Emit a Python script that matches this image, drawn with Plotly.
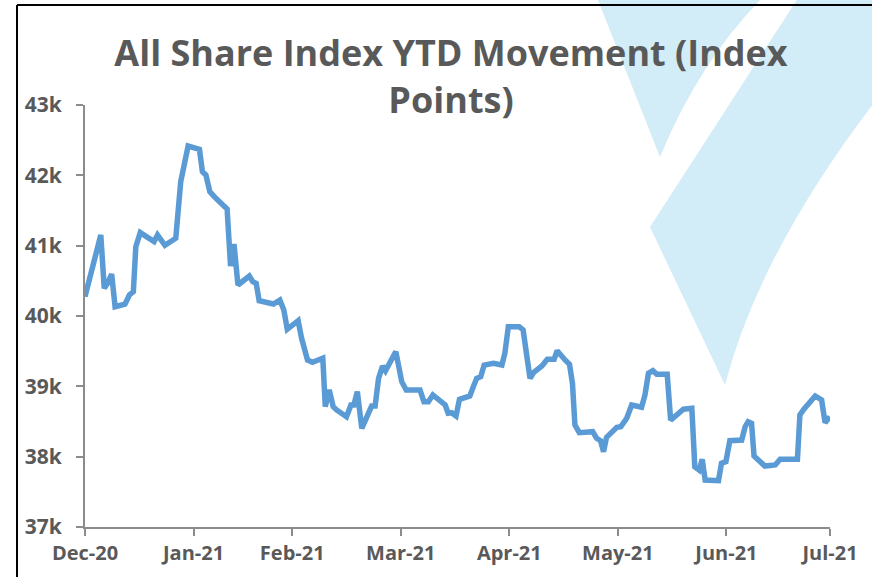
import plotly.graph_objects as go

# Trading-day index (x) and All Share Index level (y)
day = [0, 3.2, 3.9, 4.5, 5.4, 6.1, 8.1, 9.0, 9.8, 10.3, 11.2, 14.0, 14.7, 16.2, 18.4, 18.9, 19.4, 20.9,
       23.2, 23.8, 24.5, 25.3, 26.2, 28.8, 29.5, 30.2, 31.0, 33.3, 34.0, 34.7, 35.3, 38.2, 39.5, 40.3,
       41.0, 43.2, 43.9, 45.1, 46.1, 48.2, 48.7, 49.5, 50.3, 51.0, 53.0, 53.9, 54.5, 55.2, 56.1, 58.1,
       58.8, 59.5, 60.3, 60.9, 63.0, 64.2, 65.1, 67.9, 68.7, 69.6, 70.5, 73.0, 73.6, 74.3, 75.2, 75.9,
       78.0, 78.7, 79.4, 80.2, 80.9, 82.8, 84.5, 85.1, 85.8, 88.0, 88.8, 90.2, 90.9, 92.6, 93.7, 95.1,
       95.7, 97.3, 98.2, 98.8, 99.3, 100.2, 102.9, 103.7, 104.5, 105.1, 105.7, 107.8, 108.6, 109.8,
       110.8, 112.8, 113.5, 114.2, 115.1, 115.9, 118.0, 118.7, 120.6, 121.3, 123.0, 123.6, 124.5,
       125.1, 125.7, 128.4, 129.0, 129.9, 130.7, 133.1, 133.8, 134.4, 135.1, 135.6, 137.8, 139.9,
       140.9, 144.4, 144.9, 145.7, 148.0, 149.3, 150.0, 151.0]
index_points = [40275, 41152, 40394, 40455, 40597, 40132, 40167, 40299, 40346, 40986, 41185, 41057,
                41152, 41006, 41105, 41578, 41910, 42417, 42370, 42052, 42005, 41768, 41697, 41522,
                40711, 41024, 40441, 40569, 40488, 40465, 40218, 40171, 40228, 40086, 39811, 39933,
                39683, 39375, 39342, 39399, 38711, 38948, 38711, 38664, 38568, 38735, 38735, 38924,
                38403, 38720, 38720, 39114, 39289, 39222, 39493, 39066, 38948, 38948, 38782, 38782,
                38877, 38735, 38617, 38625, 38578, 38816, 38863, 38995, 39114, 39137, 39303, 39328,
                39303, 39470, 39848, 39848, 39801, 39114, 39194, 39289, 39385, 39385, 39507, 39375,
                39313, 39043, 38450, 38341, 38355, 38261, 38227, 38071, 38275, 38418, 38426, 38546,
                38735, 38702, 38877, 39185, 39222, 39171, 39171, 38521, 38639, 38674, 38688, 37857,
                37810, 37963, 37668, 37658, 37906, 37929, 38227, 38237, 38426, 38497, 38474, 38010,
                37867, 37882, 37963, 37963, 38593, 38674, 38863, 38806, 38483, 38568]

month_ticks = [0, 22, 42, 64, 86, 108, 130, 151]
month_labels = ["Dec-20", "Jan-21", "Feb-21", "Mar-21", "Apr-21", "May-21", "Jun-21", "Jul-21"]
y_ticks = [37000, 38000, 39000, 40000, 41000, 42000, 43000]

W, H = 872, 577
L, R, T, B = 85, 830, 105, 527


def px(x):
    return (x - L) / (R - L)


def py(y):
    return (B - y) / (B - T)


def path(cmds):
    out = []
    for c in cmds:
        if isinstance(c, str):
            out.append(c)
        else:
            out.append(f"{px(c[0]):.4f},{py(c[1]):.4f}")
    return " ".join(out)


wm = "#D2ECF8"
shape_a = path(["M", (596, -5), "L", (660, 157), "Q", (700, 60), (765, -5), "Z"])
shape_b = path(["M", (800, -5), "L", (650, 227), "L", (725, 385), "Q", (760, 250), (880, 95),
                "L", (880, -5), "Z"])

fig = go.Figure()
fig.add_trace(go.Scatter(x=day, y=index_points, mode="lines",
                         line=dict(color="#5B9BD5", width=5.5), showlegend=False))

fig.update_layout(
    width=W, height=H,
    margin=dict(l=L, r=W - R, t=T, b=H - B),
    paper_bgcolor="white", plot_bgcolor="rgba(0,0,0,0)",
    title=dict(text="All Share Index YTD Movement (Index<br>Points)",
               x=451 / W, xanchor="center", xref="container",
               y=1 - 66 / H, yanchor="middle",
               font=dict(family="Open Sans", size=36, color="#595959", weight="bold")),
    shapes=[
        dict(type="path", path=shape_a, xref="paper", yref="paper", fillcolor=wm,
             line=dict(width=0), layer="below"),
        dict(type="path", path=shape_b, xref="paper", yref="paper", fillcolor=wm,
             line=dict(width=0), layer="below"),
        dict(type="line", xref="paper", yref="paper", x0=px(17), x1=px(17), y0=py(5), y1=py(590),
             line=dict(color="black", width=2), layer="above"),
        dict(type="line", xref="paper", yref="paper", x0=px(17), x1=px(890), y0=py(5), y1=py(5),
             line=dict(color="black", width=2), layer="above"),
    ],
)

fig.update_xaxes(range=[0, 151], tickvals=month_ticks, ticktext=month_labels,
                 showline=True, linecolor="#8C8C8C", linewidth=2, ticks="outside",
                 ticklen=7, tickwidth=2, tickcolor="#8C8C8C", showgrid=False, zeroline=False,
                 tickfont=dict(family="Open Sans", size=20, color="#595959", weight="bold"))
fig.update_yaxes(range=[37000, 43000], tickvals=y_ticks, tickformat="~s",
                 showline=True, linecolor="#8C8C8C", linewidth=2, ticks="outside",
                 ticklen=7, tickwidth=2, tickcolor="#8C8C8C", showgrid=False, zeroline=False,
                 ticklabelstandoff=10,
                 tickfont=dict(family="Open Sans", size=21, color="#595959", weight="bold"))

fig.write_html("out.html", config={"displayModeBar": False},
               post_script="document.body.style.margin='0';")
